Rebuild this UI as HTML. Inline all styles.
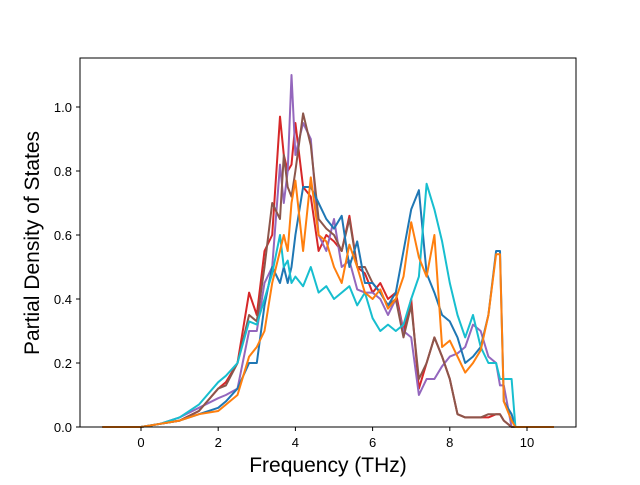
<!DOCTYPE html>
<html><head><meta charset="utf-8"><style>
body{margin:0;background:#fff;}
svg text{font-family:"Liberation Sans","DejaVu Sans",sans-serif;}
</style></head><body>
<svg id="chart" width="640" height="480" xmlns="http://www.w3.org/2000/svg">
<rect width="640" height="480" fill="#fff"/>
<g id="plot"></g>
<rect x="80" y="58" width="496" height="369" fill="none" stroke="#000" stroke-width="1"/>
<g id="axes"></g>
<text x="328" y="472" font-size="21" text-anchor="middle">Frequency (THz)</text>
<text transform="translate(39,243) rotate(-90)" font-size="21" text-anchor="middle">Partial Density of States</text>
</svg>
<script>
const freqs=[-1,0,0.5,1,1.5,2,2.2,2.5,2.8,3.0,3.2,3.4,3.6,3.7,3.8,3.9,4.0,4.2,4.4,4.6,4.8,5.0,5.2,5.4,5.6,5.8,6.0,6.2,6.4,6.6,6.8,7.0,7.2,7.4,7.6,7.8,8.0,8.2,8.4,8.6,8.8,9.0,9.2,9.3,9.4,9.6,9.7,10.7];
const blueVals=[0,0,0.01,0.02,0.04,0.06,0.08,0.12,0.2,0.2,0.38,0.5,0.45,0.5,0.45,0.5,0.6,0.75,0.75,0.7,0.65,0.62,0.66,0.5,0.58,0.45,0.45,0.42,0.38,0.42,0.55,0.68,0.74,0.48,0.42,0.35,0.33,0.28,0.2,0.22,0.25,0.35,0.55,0.55,0.08,0.04,0,0];
const orangeVals=[0,0,0.01,0.02,0.04,0.05,0.07,0.1,0.22,0.25,0.3,0.45,0.55,0.6,0.55,0.7,0.77,0.55,0.78,0.6,0.58,0.5,0.45,0.57,0.5,0.42,0.4,0.43,0.37,0.4,0.47,0.64,0.53,0.47,0.6,0.25,0.27,0.22,0.17,0.2,0.24,0.35,0.54,0.54,0.08,0.02,0,0];
const redVals=[0,0,0.01,0.02,0.05,0.12,0.14,0.2,0.42,0.35,0.55,0.6,0.97,0.85,0.8,0.82,0.95,0.75,0.72,0.55,0.6,0.58,0.55,0.66,0.5,0.48,0.42,0.45,0.4,0.42,0.3,0.4,0.12,0.2,0.28,0.22,0.15,0.04,0.03,0.03,0.03,0.03,0.04,0.04,0.02,0,0,0];
const purpleVals=[0,0,0.01,0.03,0.06,0.09,0.1,0.12,0.3,0.3,0.45,0.5,0.82,0.7,0.8,1.1,0.85,0.95,0.9,0.6,0.55,0.65,0.5,0.52,0.43,0.42,0.42,0.4,0.35,0.4,0.3,0.28,0.1,0.15,0.15,0.19,0.22,0.23,0.25,0.32,0.3,0.22,0.2,0.13,0.13,0,0,0];
const brownVals=[0,0,0.01,0.02,0.05,0.12,0.13,0.2,0.35,0.33,0.5,0.7,0.65,0.85,0.75,0.72,0.8,0.98,0.88,0.65,0.62,0.6,0.55,0.65,0.5,0.5,0.45,0.42,0.38,0.4,0.28,0.38,0.15,0.2,0.28,0.22,0.15,0.04,0.03,0.03,0.03,0.04,0.04,0.04,0.02,0,0,0];
const cyanVals=[0,0,0.01,0.03,0.07,0.14,0.16,0.2,0.33,0.32,0.4,0.48,0.6,0.5,0.52,0.45,0.47,0.44,0.5,0.42,0.44,0.4,0.42,0.44,0.38,0.42,0.34,0.3,0.32,0.3,0.32,0.4,0.47,0.76,0.68,0.58,0.45,0.35,0.28,0.35,0.25,0.2,0.2,0.15,0.15,0.15,0,0];
const xTicks=[0,2,4,6,8,10];
const yTicks=[0.0,0.2,0.4,0.6,0.8,1.0];
const NS="http://www.w3.org/2000/svg";
const xScale=v=>141+38.6*v;
const yScale=v=>427-320*v;
const plot=document.getElementById('plot');
const series=[["blue",blueVals,"#1f77b4"],["orange",orangeVals,"#ff7f0e"],["red",redVals,"#d62728"],["purple",purpleVals,"#9467bd"],["brown",brownVals,"#8c564b"],["cyan",cyanVals,"#17becf"]];
const drawOrder=[2,3,4,0,5,1];
drawOrder.forEach(i=>{
  const s=series[i];
  const p=document.createElementNS(NS,'polyline');
  
  
  p.setAttribute('points',freqs.map((f,j)=>xScale(f).toFixed(1)+','+yScale(s[1][j]).toFixed(1)).join(' '));
  p.setAttribute('fill','none');p.setAttribute('stroke',s[2]);p.setAttribute('stroke-width','2');
  p.setAttribute('stroke-linejoin','round');
  plot.appendChild(p);
});
const axes=document.getElementById('axes');
xTicks.forEach(t=>{
  const l=document.createElementNS(NS,'line');
  
  
  l.setAttribute('x1',xScale(t));l.setAttribute('x2',xScale(t));l.setAttribute('y1',427);l.setAttribute('y2',431);l.setAttribute('stroke','#000');
  axes.appendChild(l);
  const tx=document.createElementNS(NS,'text');
  
  
  tx.setAttribute('x',xScale(t));tx.setAttribute('y',447);tx.setAttribute('font-size','13');tx.setAttribute('text-anchor','middle');
  tx.textContent=t;axes.appendChild(tx);
});
yTicks.forEach(t=>{
  const l=document.createElementNS(NS,'line');
  
  
  l.setAttribute('x1',76);l.setAttribute('x2',80);l.setAttribute('y1',yScale(t));l.setAttribute('y2',yScale(t));l.setAttribute('stroke','#000');
  axes.appendChild(l);
  const tx=document.createElementNS(NS,'text');
  
  
  tx.setAttribute('x',72);tx.setAttribute('y',yScale(t)+5);tx.setAttribute('font-size','13');tx.setAttribute('text-anchor','end');
  tx.textContent=t.toFixed(1);axes.appendChild(tx);
});
</script>
</body></html>
